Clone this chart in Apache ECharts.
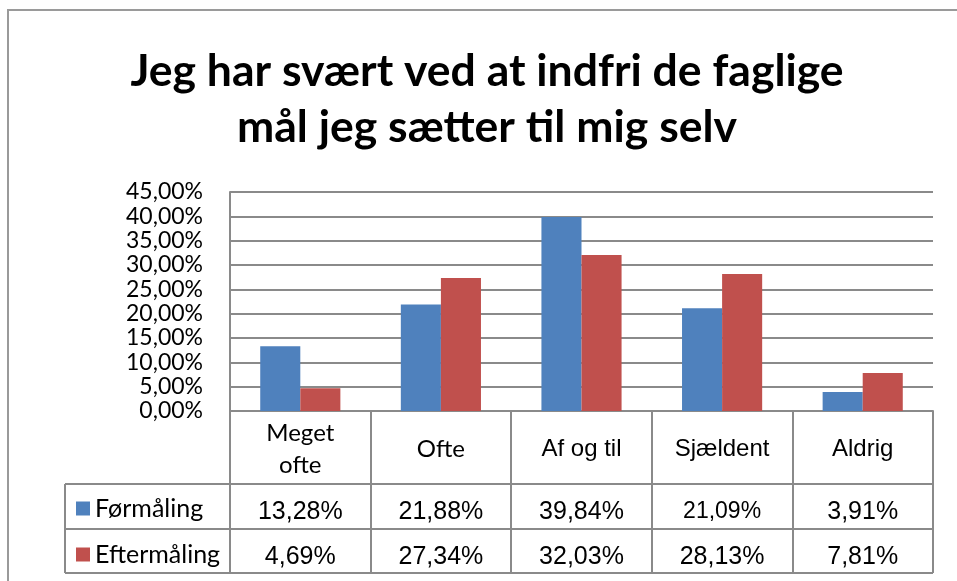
<!DOCTYPE html>
<html>
<head>
<meta charset="utf-8">
<script src="https://cdn.jsdelivr.net/npm/echarts@6/dist/echarts.min.js"></script>
<style>
  html, body { margin: 0; padding: 0; background: #fff; }
  #chart { width: 957px; height: 581px; }
</style>
</head>
<body>
<div id="chart"></div>
<script>
// data
const categories = ['Meget\nofte', 'Ofte', 'Af og til', 'Sjældent', 'Aldrig']
const seriesNames = ['Førmåling', 'Eftermåling']
const foer = [13.28, 21.88, 39.84, 21.09, 3.91]
const efter = [4.69, 27.34, 32.03, 28.13, 7.81]
const yTicks = { min: 0, max: 45, interval: 5 }

const titleText = 'Jeg har svært ved at indfri de faglige\nmål jeg sætter til mig selv'

const pct = v => v.toFixed(2).replace('.', ',') + '%'
const calibri = 'Lato, "Open Sans", sans-serif'
const arial = '"Liberation Sans", Arial, sans-serif'
const lineGray = '#8a8a8a'

// grid box (px)
const G = { left: 230, top: 192, right: 933, bottom: 411 }
const rowLines = [484, 529, 573]
const legendLeft = 65

const chart = echarts.init(document.getElementById('chart'))

// category labels: the first two look like Calibri, the rest like Arial
const catData = categories.map((c, i) => ({
  value: c,
  textStyle: i < 2
    ? { fontFamily: calibri, fontSize: 24, lineHeight: 32, verticalAlign: 'middle' }
    : { fontFamily: arial, fontSize: 24, verticalAlign: 'middle' }
}))

// table rows: value labels per category
const rowData = (vals, small) => vals.map((v, i) => {
  const item = { value: pct(v), textStyle: { verticalAlign: 'middle', fontSize: 25 } }
  if (small && small.includes(i)) item.textStyle.fontSize = 23
  return item
})

const tableLines = []
rowLines.forEach(y => {
  tableLines.push({
    type: 'line',
    shape: { x1: legendLeft, y1: y, x2: G.right, y2: y },
    style: { stroke: lineGray, lineWidth: 2 }
  })
})
tableLines.push({
  type: 'line',
  shape: { x1: legendLeft, y1: rowLines[0], x2: legendLeft, y2: rowLines[2] },
  style: { stroke: lineGray, lineWidth: 2 }
})
// outer chart frame
tableLines.push({
  type: 'rect',
  shape: { x: 8, y: 10, width: 980, height: 620 },
  style: { fill: 'none', stroke: '#9a9a9a', lineWidth: 2 }
})

const option = {
  backgroundColor: '#fff',
  animation: false,
  title: {
    text: titleText,
    left: 482,
    top: 39,
    textAlign: 'center',
    textStyle: {
      fontFamily: calibri,
      fontWeight: 'bold',
      fontSize: 44.5,
      lineHeight: 56,
      color: '#000'
    }
  },
  legend: {
    orient: 'vertical',
    left: 71,
    top: 491,
    itemWidth: 14,
    itemHeight: 14,
    itemGap: 21,
    icon: 'rect',
    textStyle: { fontFamily: calibri, fontSize: 25, color: '#000', lineHeight: 25 },
    data: seriesNames
  },
  grid: {
    left: G.left,
    top: G.top,
    right: 957 - G.right,
    bottom: 581 - G.bottom,
    containLabel: false
  },
  xAxis: [
    {
      type: 'category',
      data: catData,
      axisLine: { show: true, lineStyle: { color: lineGray, width: 2 } },
      axisTick: { show: true, length: 162, lineStyle: { color: lineGray, width: 2 } },
      axisLabel: {
        color: '#000',
        fontFamily: arial,
        fontSize: 24,
        margin: 38,
        verticalAlign: 'middle',
        interval: 0
      }
    },
    {
      type: 'category',
      position: 'bottom',
      offset: 73,
      data: rowData(foer, [3]),
      axisLine: { show: false },
      axisTick: { show: false },
      axisLabel: {
        fontFamily: arial, fontSize: 25, color: '#000',
        margin: 28, verticalAlign: 'middle', interval: 0
      }
    },
    {
      type: 'category',
      position: 'bottom',
      offset: 118,
      data: rowData(efter),
      axisLine: { show: false },
      axisTick: { show: false },
      axisLabel: {
        fontFamily: arial, fontSize: 25, color: '#000',
        margin: 28, verticalAlign: 'middle', interval: 0
      }
    }
  ],
  yAxis: {
    type: 'value',
    min: yTicks.min,
    max: yTicks.max,
    interval: yTicks.interval,
    axisLine: { show: true, lineStyle: { color: lineGray, width: 2 } },
    axisTick: { show: false },
    splitLine: { show: true, lineStyle: { color: lineGray, width: 2 } },
    axisLabel: {
      formatter: v => pct(v),
      fontFamily: calibri,
      fontSize: 23,
      color: '#000',
      margin: 27
    }
  },
  series: [
    {
      name: seriesNames[0],
      type: 'bar',
      data: foer,
      barGap: '0%',
      barCategoryGap: '43%',
      itemStyle: { color: '#4f81bd' }
    },
    {
      name: seriesNames[1],
      type: 'bar',
      data: efter,
      itemStyle: { color: '#c0504d' }
    }
  ],
  graphic: tableLines
}

chart.setOption(option)
</script>
</body>
</html>
